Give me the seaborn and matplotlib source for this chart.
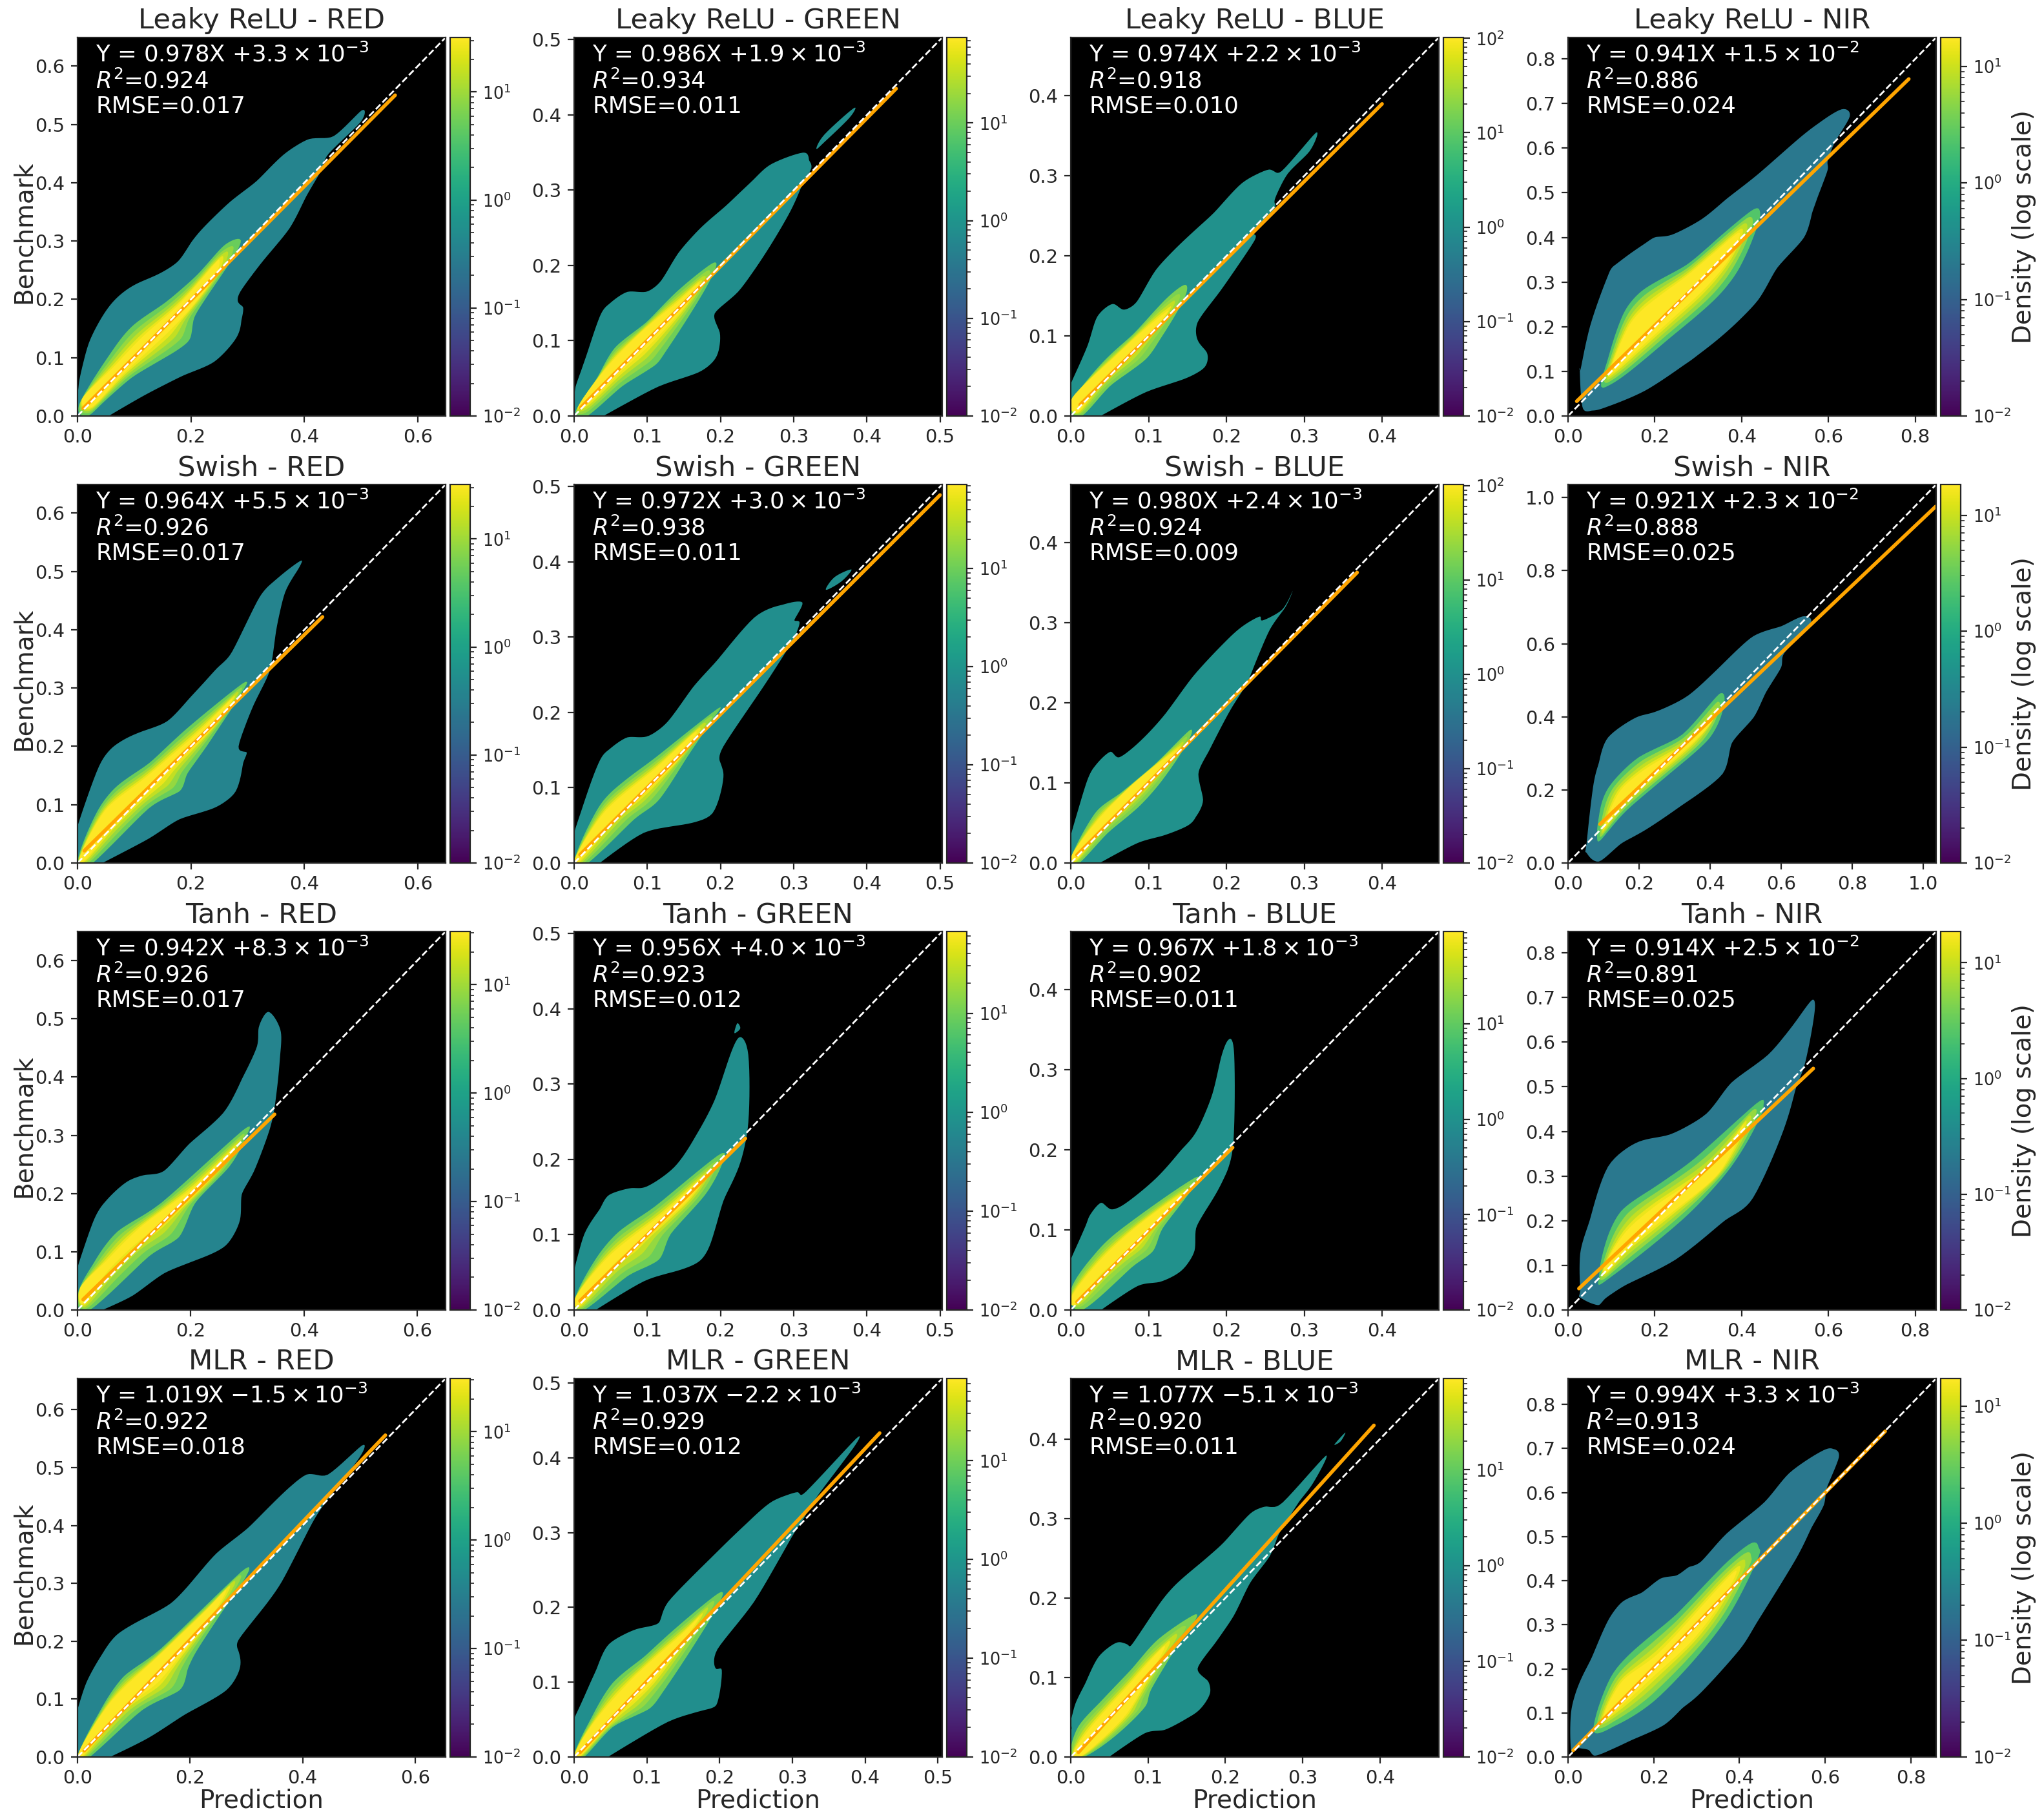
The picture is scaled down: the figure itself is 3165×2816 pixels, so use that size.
import numpy as np
import matplotlib
matplotlib.use("Agg")
import matplotlib.pyplot as plt
import seaborn as sns
from matplotlib.cm import ScalarMappable
from matplotlib.colors import LogNorm
from matplotlib.ticker import MultipleLocator

sns.set_style("ticks")
plt.rcParams['font.family'] = ['DejaVu Sans']

models = ['Leaky ReLU', 'Swish', 'Tanh', 'MLR']
bands = ['RED', 'GREEN', 'BLUE', 'NIR']

# text in each panel
slopes = [['0.978', '0.986', '0.974', '0.941'],
          ['0.964', '0.972', '0.980', '0.921'],
          ['0.942', '0.956', '0.967', '0.914'],
          ['1.019', '1.037', '1.077', '0.994']]
offsets = [['+3.3', '+1.9', '+2.2', '+1.5'],
           ['+5.5', '+3.0', '+2.4', '+2.3'],
           ['+8.3', '+4.0', '+1.8', '+2.5'],
           ['-1.5', '-2.2', '-5.1', '+3.3']]
exponents = [[-3, -3, -3, -2],
             [-3, -3, -3, -2],
             [-3, -3, -3, -2],
             [-3, -3, -3, -3]]
r2 = [['0.924', '0.934', '0.918', '0.886'],
      ['0.926', '0.938', '0.924', '0.888'],
      ['0.926', '0.923', '0.902', '0.891'],
      ['0.922', '0.929', '0.920', '0.913']]
rmse = [['0.017', '0.011', '0.010', '0.024'],
        ['0.017', '0.011', '0.009', '0.025'],
        ['0.017', '0.012', '0.011', '0.025'],
        ['0.018', '0.012', '0.011', '0.024']]

# axis limit and colorbar top
limits = [[0.649, 0.503, 0.473, 0.848],
          [0.649, 0.503, 0.473, 1.036],
          [0.650, 0.503, 0.473, 0.848],
          [0.654, 0.506, 0.476, 0.859]]
vmax = [[32, 75, 102, 17.7],
        [32, 72, 103, 18.4],
        [31, 67, 93, 18.6],
        [31, 68, 90, 17.3]]

# fit line end points (x0, x1), (y0, y1)
fit_x = [[(.01, .56), (.009, .44), (.012, .4), (.02, .785)],
         [(.012, .432), (.008, .5), (.008, .368), (.09, 1.035)],
         [(.01, .348), (.008, .234), (.008, .208), (.025, .565)],
         [(.012, .547), (.008, .42), (.01, .392), (.012, .74)]]
fit_y = [[(.013, .55), (.011, .435), (.014, .39), (.033, .755)],
         [(.021, .422), (.011, .489), (.01, .363), (.106, .976)],
         [(.018, .336), (.012, .228), (.01, .203), (.048, .541)],
         [(.011, .556), (.006, .433), (.006, .417), (.015, .739)]]

# density contours: outer / green / yellow
lr_red_outer = [(.003, .06), (.02, .125), (.05, .18), (.078, .21), (.107, .228), (.142, .243), (.177, .265), (.2, .297), (.223, .324), (.27, .368), (.316, .403), (.362, .447), (.409, .475), (.452, .48), (.501, .524), (.499, .504), (.443, .45), (.429, .42), (.403, .376), (.374, .322), (.328, .267), (.287, .213), (.284, .194), (.292, .186), (.289, .164), (.28, .134), (.241, .093), (.188, .07), (.119, .036), (.055, 0), (0, 0)]
lr_red_mid = [(.003, .02), (.06, .11), (.1, .157), (.154, .194), (.212, .243), (.258, .292), (.287, .303), (.278, .277), (.241, .223), (.206, .169), (.197, .13), (.154, .1), (.096, .066), (.043, .021), (.017, 0)]
lr_red_core = [(.009, .031), (.06, .08), (.119, .139), (.177, .189), (.235, .253), (.249, .267), (.241, .238), (.194, .179), (.148, .134), (.078, .07), (.026, .016)]

lr_green_outer = [(.002, .039), (.018, .084), (.035, .132), (.048, .149), (.073, .165), (.098, .165), (.119, .18), (.142, .216), (.174, .251), (.207, .279), (.245, .314), (.27, .335), (.313, .35), (.321, .34), (.324, .329), (.313, .31), (.296, .273), (.262, .217), (.224, .165), (.192, .136), (.199, .111), (.195, .08), (.17, .058), (.115, .039), (.04, 0), (0, 0)]
lr_green_mid = [(.002, .006), (.031, .05), (.056, .091), (.098, .124), (.14, .165), (.189, .203), (.191, .191), (.166, .147), (.124, .084), (.107, .065), (.065, .039), (.018, 0)]
lr_green_core = [(.006, .013), (.039, .058), (.09, .11), (.14, .15), (.17, .176), (.149, .143), (.103, .095), (.065, .061), (.023, .02)]
lr_green_speck = [(.331, .355), (.342, .374), (.382, .409), (.376, .396), (.342, .364)]

lr_blue_outer = [(0, .04), (.022, .089), (.034, .124), (.054, .14), (.067, .133), (.085, .143), (.109, .182), (.145, .219), (.184, .254), (.22, .291), (.255, .308), (.271, .306), (.315, .354), (.307, .331), (.279, .303), (.262, .27), (.262, .259), (.236, .229), (.236, .219), (.192, .156), (.163, .117), (.164, .093), (.175, .079), (.172, .061), (.145, .046), (.097, .03), (.042, .002), (0, 0)]
lr_blue_mid = [(0, .016), (.042, .068), (.081, .103), (.121, .145), (.147, .164), (.145, .145), (.113, .093), (.093, .068), (.05, .037), (.014, 0)]
lr_blue_core = [(.002, .023), (.05, .068), (.089, .103), (.125, .131), (.105, .107), (.074, .075), (.042, .047), (.009, .005)]

lr_nir_outer = [(.029, .105), (.051, .202), (.091, .312), (.112, .341), (.178, .387), (.203, .401), (.239, .406), (.308, .441), (.366, .487), (.438, .542), (.525, .616), (.576, .655), (.63, .687), (.649, .671), (.616, .616), (.598, .571), (.598, .551), (.576, .493), (.562, .454), (.543, .399), (.482, .332), (.438, .26), (.366, .189), (.301, .138), (.264, .112), (.178, .057), (.091, .021), (.054, .012), (.033, .021), (.027, .105)]
lr_nir_mid = [(.076, .07), (.091, .125), (.127, .228), (.178, .286), (.272, .338), (.351, .403), (.424, .461), (.442, .458), (.435, .422), (.395, .332), (.337, .26), (.236, .176), (.141, .099), (.091, .067)]
lr_nir_core = [(.098, .105), (.141, .202), (.192, .254), (.272, .312), (.351, .377), (.395, .409), (.366, .345), (.308, .28), (.25, .228), (.17, .157), (.105, .099)]

sw_red_outer = [(0, .063), (.038, .166), (.071, .205), (.115, .226), (.158, .243), (.197, .282), (.246, .334), (.273, .363), (.317, .449), (.344, .481), (.393, .518), (.388, .502), (.366, .464), (.35, .397), (.339, .33), (.311, .272), (.284, .2), (.298, .19), (.292, .171), (.279, .123), (.24, .094), (.18, .075), (.126, .042), (.044, 0), (0, 0)]
sw_red_mid = [(0, .003), (.033, .085), (.071, .133), (.126, .171), (.191, .229), (.29, .307), (.292, .296), (.257, .243), (.224, .195), (.193, .152), (.18, .123), (.126, .094), (.027, 0)]
sw_red_core = [(.005, .013), (.049, .09), (.115, .142), (.213, .224), (.273, .282), (.24, .234), (.18, .176), (.137, .133), (.06, .061), (.016, .008)]

sw_green_outer = [(0, .04), (.019, .096), (.035, .136), (.048, .151), (.073, .167), (.099, .168), (.128, .188), (.162, .233), (.196, .27), (.246, .326), (.284, .343), (.312, .346), (.301, .323), (.308, .32), (.297, .293), (.255, .229), (.204, .155), (.2, .133), (.204, .114), (.189, .066), (.149, .051), (.095, .04), (.035, 0), (0, 0)]
sw_green_mid = [(0, .003), (.031, .07), (.061, .103), (.111, .14), (.196, .205), (.187, .188), (.154, .14), (.116, .084), (.082, .058), (.019, 0)]
sw_green_core = [(.003, .01), (.044, .07), (.111, .125), (.166, .174), (.145, .14), (.095, .092), (.052, .058), (.008, .004)]
sw_green_speck = [(.344, .363), (.356, .38), (.379, .39), (.365, .374)]

sw_blue_outer = [(0, .034), (.019, .097), (.031, .121), (.051, .139), (.062, .132), (.09, .153), (.122, .187), (.157, .233), (.197, .275), (.221, .296), (.243, .308), (.246, .303), (.272, .317), (.285, .34), (.276, .32), (.256, .292), (.236, .247), (.225, .222), (.205, .191), (.177, .139), (.164, .111), (.17, .079), (.161, .058), (.149, .046), (.118, .034), (.086, .025), (.039, .001), (0, 0)]
sw_blue_mid = [(0, .006), (.031, .062), (.062, .086), (.11, .125), (.153, .166), (.149, .149), (.118, .104), (.086, .069), (.047, .037), (.011, 0)]
sw_blue_core = [(.003, .013), (.039, .058), (.086, .104), (.138, .142), (.118, .118), (.078, .079), (.039, .044), (.007, .004)]

sw_nir_outer = [(.052, .052), (.07, .205), (.087, .275), (.113, .344), (.191, .398), (.243, .413), (.339, .459), (.443, .552), (.522, .621), (.6, .648), (.661, .675), (.682, .655), (.609, .575), (.6, .536), (.557, .467), (.522, .398), (.461, .328), (.435, .244), (.322, .159), (.217, .09), (.148, .052), (.087, .004), (.052, .028)]
sw_nir_mid = [(.082, .067), (.087, .128), (.113, .205), (.2, .29), (.322, .352), (.426, .463), (.437, .425), (.4, .344), (.304, .259), (.165, .144), (.096, .067)]
sw_nir_core = [(.104, .105), (.148, .198), (.235, .267), (.339, .328), (.409, .398), (.383, .359), (.287, .275), (.165, .175), (.104, .098)]

t_red_outer = [(0, .073), (.027, .15), (.049, .186), (.087, .22), (.12, .232), (.153, .239), (.197, .285), (.257, .338), (.29, .396), (.317, .453), (.32, .485), (.337, .512), (.358, .482), (.358, .439), (.35, .362), (.339, .309), (.311, .237), (.29, .198), (.287, .155), (.262, .111), (.213, .087), (.153, .063), (.098, .025), (.044, 0), (0, 0)]
t_red_mid = [(0, .025), (.027, .078), (.071, .135), (.148, .184), (.29, .307), (.298, .299), (.268, .246), (.208, .184), (.18, .126), (.126, .092), (.022, 0)]
t_red_core = [(.005, .039), (.049, .082), (.115, .145), (.202, .208), (.279, .28), (.235, .227), (.169, .164), (.104, .116), (.049, .063), (.011, .01)]

t_green_outer = [(0, .052), (.014, .101), (.035, .134), (.048, .153), (.078, .162), (.099, .164), (.137, .19), (.166, .231), (.192, .279), (.209, .327), (.225, .362), (.238, .339), (.238, .249), (.225, .19), (.204, .145), (.187, .09), (.17, .064), (.137, .051), (.095, .038), (.031, .001), (0, 0)]
t_green_mid = [(0, .012), (.027, .064), (.061, .104), (.111, .138), (.196, .205), (.203, .196), (.179, .153), (.132, .101), (.116, .067), (.073, .045), (.014, 0)]
t_green_core = [(.003, .019), (.052, .075), (.12, .127), (.175, .175), (.154, .145), (.103, .101), (.052, .06), (.01, .008)]
t_green_speck = [(.219, .368), (.223, .381), (.227, .374)]

t_blue_outer = [(0, .063), (.019, .105), (.025, .119), (.039, .134), (.051, .126), (.07, .133), (.11, .165), (.142, .2), (.162, .224), (.182, .27), (.193, .315), (.203, .338), (.21, .319), (.209, .21), (.197, .165), (.177, .13), (.161, .102), (.159, .074), (.142, .049), (.114, .035), (.086, .03), (.039, 0), (0, 0)]
t_blue_mid = [(0, .025), (.031, .07), (.07, .105), (.159, .165), (.153, .147), (.118, .102), (.106, .074), (.078, .053), (.015, 0)]
t_blue_core = [(.002, .018), (.039, .063), (.086, .105), (.142, .144), (.11, .109), (.078, .077), (.039, .046), (.007, .007)]

t_nir_outer = [(.028, .044), (.028, .126), (.05, .201), (.092, .321), (.163, .377), (.234, .393), (.319, .44), (.376, .509), (.461, .572), (.525, .647), (.563, .695), (.567, .66), (.546, .553), (.525, .497), (.496, .402), (.426, .251), (.362, .201), (.248, .113), (.135, .057), (.085, .025), (.068, .011), (.028, .028)]
t_nir_mid = [(.071, .069), (.085, .145), (.121, .22), (.191, .27), (.291, .339), (.433, .462), (.45, .459), (.44, .427), (.376, .321), (.262, .201), (.092, .069)]
t_nir_core = [(.085, .101), (.135, .176), (.22, .245), (.333, .321), (.404, .415), (.348, .308), (.248, .226), (.135, .138), (.092, .088)]

m_red_outer = [(0, .081), (.016, .129), (.044, .178), (.071, .212), (.115, .238), (.165, .265), (.203, .303), (.247, .352), (.302, .395), (.357, .448), (.407, .488), (.445, .488), (.505, .538), (.5, .516), (.44, .439), (.412, .395), (.363, .303), (.324, .25), (.286, .202), (.286, .183), (.289, .156), (.264, .115), (.192, .074), (.126, .033), (.06, .001), (0, 0)]
m_red_mid = [(0, .001), (.038, .076), (.082, .139), (.148, .187), (.291, .32), (.3, .313), (.28, .284), (.214, .187), (.195, .149), (.181, .115), (.115, .081), (.022, 0)]
m_red_core = [(.005, .014), (.06, .096), (.137, .168), (.225, .25), (.264, .289), (.236, .241), (.176, .168), (.137, .125), (.071, .076), (.011, .004)]

m_green_outer = [(0, .051), (.014, .081), (.031, .118), (.048, .151), (.086, .171), (.116, .179), (.129, .207), (.188, .266), (.239, .314), (.273, .342), (.307, .354), (.319, .355), (.387, .425), (.383, .412), (.336, .351), (.315, .318), (.298, .292), (.247, .207), (.197, .144), (.195, .118), (.203, .116), (.197, .073), (.18, .063), (.129, .047), (.048, .001), (0, 0)]
m_green_mid = [(0, .003), (.023, .051), (.053, .099), (.095, .133), (.137, .17), (.197, .218), (.201, .209), (.171, .159), (.12, .084), (.099, .062), (.053, .04), (.014, 0)]
m_green_core = [(.003, .009), (.031, .051), (.086, .11), (.146, .162), (.171, .186), (.15, .155), (.103, .096), (.061, .059), (.01, .003)]

m_blue_outer = [(0, .044), (.006, .067), (.019, .093), (.036, .126), (.06, .144), (.074, .141), (.081, .144), (.115, .193), (.138, .219), (.168, .244), (.198, .27), (.232, .306), (.253, .315), (.274, .32), (.33, .379), (.313, .344), (.296, .322), (.279, .296), (.268, .278), (.257, .252), (.232, .219), (.211, .178), (.185, .141), (.164, .111), (.177, .096), (.18, .08), (.168, .061), (.151, .049), (.121, .034), (.096, .03), (.051, .001), (0, 0)]
m_blue_mid = [(0, .004), (.009, .037), (.036, .067), (.079, .111), (.113, .148), (.16, .179), (.159, .169), (.143, .148), (.104, .085), (.096, .063), (.057, .026), (.017, 0)]
m_blue_core = [(.004, .007), (.032, .044), (.074, .089), (.121, .139), (.091, .085), (.07, .052), (.036, .019), (.011, 0)]
m_blue_speck = [(.341, .393), (.355, .408), (.349, .397)]

m_nir_outer = [(.007, .016), (.007, .101), (.026, .167), (.055, .225), (.092, .307), (.128, .353), (.172, .373), (.216, .405), (.253, .412), (.282, .431), (.311, .444), (.37, .507), (.458, .578), (.516, .644), (.59, .693), (.619, .699), (.632, .68), (.604, .611), (.597, .572), (.568, .52), (.531, .448), (.44, .304), (.399, .242), (.311, .147), (.267, .111), (.223, .072), (.15, .039), (.099, .016), (.062, .003), (.048, .016), (.018, .02)]
m_nir_mid = [(.059, .062), (.099, .18), (.165, .252), (.253, .324), (.363, .435), (.429, .486), (.445, .474), (.443, .451), (.385, .337), (.311, .239), (.201, .127), (.106, .069)]
m_nir_core = [(.084, .095), (.128, .173), (.209, .232), (.326, .356), (.392, .422), (.355, .35), (.289, .265), (.201, .186), (.106, .101)]

outers = [[lr_red_outer, lr_green_outer, lr_blue_outer, lr_nir_outer],
          [sw_red_outer, sw_green_outer, sw_blue_outer, sw_nir_outer],
          [t_red_outer, t_green_outer, t_blue_outer, t_nir_outer],
          [m_red_outer, m_green_outer, m_blue_outer, m_nir_outer]]
mids = [[lr_red_mid, lr_green_mid, lr_blue_mid, lr_nir_mid],
        [sw_red_mid, sw_green_mid, sw_blue_mid, sw_nir_mid],
        [t_red_mid, t_green_mid, t_blue_mid, t_nir_mid],
        [m_red_mid, m_green_mid, m_blue_mid, m_nir_mid]]
cores = [[lr_red_core, lr_green_core, lr_blue_core, lr_nir_core],
         [sw_red_core, sw_green_core, sw_blue_core, sw_nir_core],
         [t_red_core, t_green_core, t_blue_core, t_nir_core],
         [m_red_core, m_green_core, m_blue_core, m_nir_core]]
specks = {(0, 1): lr_green_speck, (1, 1): sw_green_speck, (2, 1): t_green_speck, (3, 2): m_blue_speck}

# colormap positions of the contour bands, per band column
outer_t = [0.45, 0.49, 0.50, 0.40]
mid_t = [0.77, 0.78, 0.80, 0.73]
xstep = [0.2, 0.1, 0.1, 0.2]
ystep = [0.1, 0.1, 0.1, 0.1]

lefts = [120, 889, 1658, 2428]
tops = [58, 750, 1442, 2134]
W, H = 3165, 2816
cmap = plt.get_cmap('viridis')


def smooth(poly, rounds=3):
    # four point subdivision: round outline that still goes through the read points
    p = np.array(poly, dtype=float)
    for _ in range(rounds):
        new = (9 * (p + np.roll(p, -1, axis=0)) - np.roll(p, 1, axis=0) - np.roll(p, -2, axis=0)) / 16
        p = np.column_stack([p, new]).reshape(-1, 2)
    return p


def resample(poly, n=240):
    # same number of points along the outline, so two contours can be blended
    p = np.vstack([poly, poly[0]])
    d = np.r_[0, np.cumsum(np.hypot(*np.diff(p, axis=0).T))]
    s = np.linspace(0, d[-1], n)
    return np.c_[np.interp(s, d, p[:, 0]), np.interp(s, d, p[:, 1])]


def close_at_origin(pts):
    # run the edges past the axes so the clip gives the square corner at the origin
    o = np.array(pts[:-1], dtype=float)
    start = o[0] + (o[0] - o[1]) * 0.5
    end = o[-1] + (o[-1] - o[-2]) * 0.5
    return np.vstack([start, o, end, (-0.05, -0.05), (-0.05, start[1])])


fig = plt.figure(figsize=(W / 200, H / 200), dpi=200)

for i, model in enumerate(models):
    for j, band in enumerate(bands):
        ax = fig.add_axes([lefts[j] / W, 1 - (tops[i] + 586) / H, 570 / W, 586 / H])
        cax = fig.add_axes([(lefts[j] + 577) / W, 1 - (tops[i] + 586) / H, 31 / W, 586 / H])
        ax.set_facecolor('black')
        lim = limits[i][j]

        # contour bands, the lowest one first
        if outers[i][j][-1] == (0, 0):
            o = smooth(close_at_origin(outers[i][j]))
        else:
            o = smooth(outers[i][j])
        ax.fill(o[:, 0], o[:, 1], color=cmap(outer_t[j]), lw=0)
        if (i, j) in specks:
            s = smooth(specks[(i, j)])
            ax.fill(s[:, 0], s[:, 1], color=cmap(outer_t[j]), lw=0)
        green = resample(smooth(mids[i][j]))
        yellow = resample(smooth(cores[i][j]))
        for blend, t in zip([0, 0.33, 0.58, 0.8, 0.97], [mid_t[j], 0.84, 0.91, 0.97, 1.0]):
            p = green * (1 - blend) + yellow * blend
            ax.fill(p[:, 0], p[:, 1], color=cmap(t), lw=0)

        sns.lineplot(x=list(fit_x[i][j]), y=list(fit_y[i][j]), ax=ax, color='orange', lw=2, sort=False, errorbar=None)
        sns.lineplot(x=[0, lim], y=[0, lim], ax=ax, color='white', lw=1, ls='--', sort=False, errorbar=None)

        ax.set_xlim(0, lim)
        ax.set_ylim(0, lim)
        ax.xaxis.set_major_locator(MultipleLocator(xstep[j]))
        ax.yaxis.set_major_locator(MultipleLocator(0.2 if (i == 1 and j == 3) else ystep[j]))
        ax.tick_params(labelsize=10.5)
        ax.set_title(f'{model} - {band}', fontsize=15.6, pad=5)

        txt = f'Y = {slopes[i][j]}X ${offsets[i][j]}\\times 10^{{{exponents[i][j]}}}$\n$R^2$={r2[i][j]}\nRMSE={rmse[i][j]}'
        ax.text(0.05, 0.985, txt, transform=ax.transAxes, color='white', fontsize=12.8, va='top', linespacing=1.14)

        if j == 0:
            ax.set_ylabel('Benchmark', fontsize=14, labelpad=-0.5, y=0.486)
        if i == 3:
            ax.set_xlabel('Prediction', fontsize=14, labelpad=0.5)

        sm = ScalarMappable(norm=LogNorm(vmin=0.01, vmax=vmax[i][j]), cmap=cmap)
        cb = fig.colorbar(sm, cax=cax)
        cb.ax.tick_params(labelsize=9.2)
        if j == 3:
            cb.set_label('Density (log scale)', fontsize=14, labelpad=0)

fig.savefig('out.png', dpi=200)
